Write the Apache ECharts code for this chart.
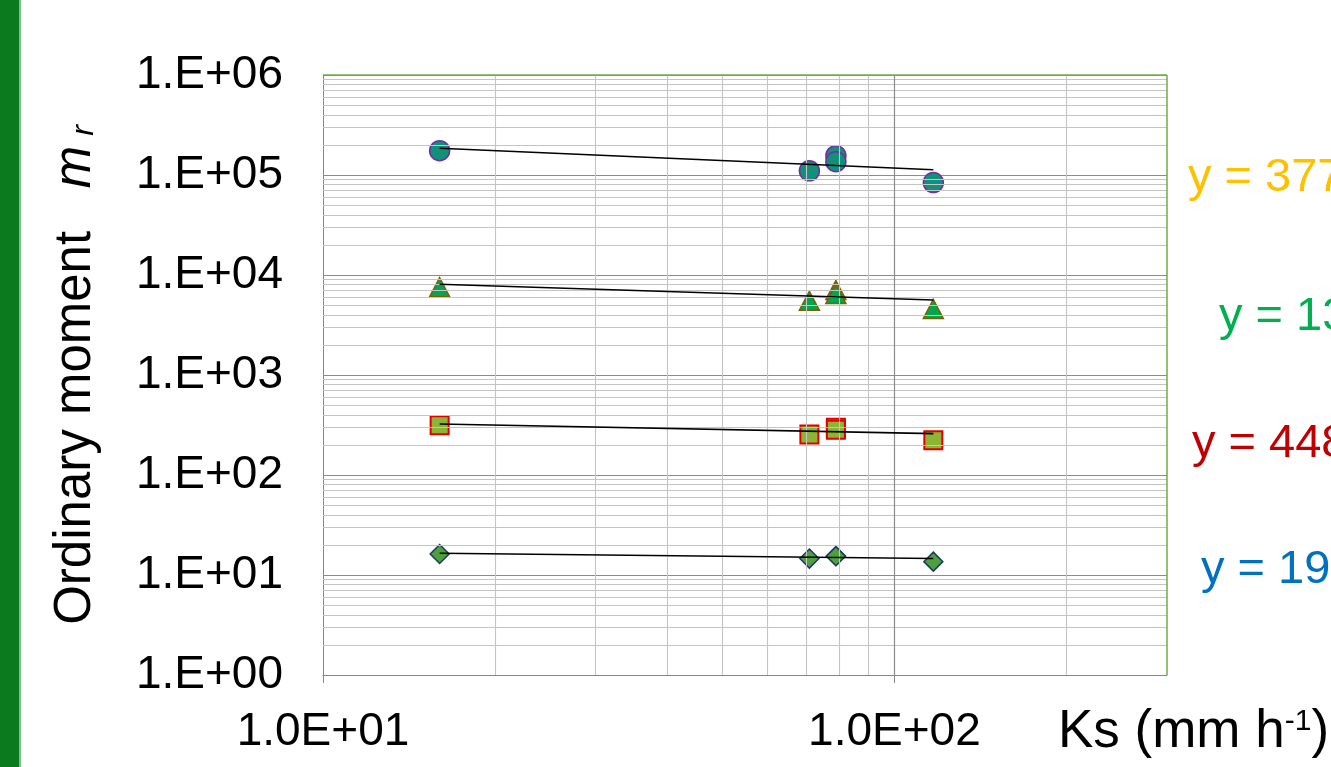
<!DOCTYPE html>
<html><head><meta charset="utf-8">
<script src="https://cdn.jsdelivr.net/npm/echarts@6/dist/echarts.min.js"></script>
<style>html,body{margin:0;padding:0;background:#fff}#c{width:1331px;height:767px}</style>
</head><body><div id="c"></div>
<script>
// Saturated hydraulic conductivity Ks (mm h-1)
const ks = [16, 71, 79, 79, 117];
// Ordinary moments
const momentCircle   = [175000, 110000, 156000, 136000, 84000];
const momentTriangle = [7550, 5520, 7080, 6460, 4570];
const momentSquare   = [315, 254, 297, 284, 222];
const momentDiamond  = [16.2, 14.6, 15.5, 15.4, 13.6];
// Power trend lines, end points
const trendKs       = [16, 117];
const trendCircle   = [185000, 113000];
const trendTriangle = [8070, 5620];
const trendSquare   = [324, 259];
const trendDiamond  = [16.5, 14.6];
// Equation labels (cut by the picture edge)
const equations = ['y = 377', 'y = 13', 'y = 448', 'y = 19'];
const equationColors = ['#FFC000', '#00B050', '#C00000', '#0070C0'];
// axis range and tick values
const xMin = 10, xMax = 300, yMin = 1, yMax = 1e6;
const xTicks = [10, 100];

const FONT = '"Liberation Sans", Arial, sans-serif';
const pts = (xs, ys) => xs.map((x, i) => [x, ys[i]]);

// minor gridline positions (2..9 of each decade)
const minorY = [];
for (let e = 0; e < 6; e++) for (let m = 2; m <= 9; m++) minorY.push(m * Math.pow(10, e));
const minorX = [];
for (let e = 1; e < 3; e++) for (let m = 2; m <= 9; m++) { const v = m * Math.pow(10, e); if (v < xMax) minorX.push(v); }

const gridLines = [];
minorY.forEach(v => gridLines.push({ yAxis: v, lineStyle: { color: '#C4C4C4', width: 1.1, type: 'solid' } }));
minorX.forEach(v => gridLines.push({ xAxis: v, lineStyle: { color: '#C4C4C4', width: 1.1, type: 'solid' } }));
gridLines.push({ xAxis: 100, lineStyle: { color: '#8C8C8C', width: 1.2, type: 'solid' } });
gridLines.push({ yAxis: yMax, lineStyle: { color: '#70AD47', width: 1.5, type: 'solid' } });
gridLines.push({ xAxis: xMax, lineStyle: { color: '#70AD47', width: 1.5, type: 'solid' } });

const chart = echarts.init(document.getElementById('c'), null, { renderer: 'canvas' });
const scatterBase = { type: 'scatter', z: 3, animation: false };
const trendBase = { type: 'line', z: 5, symbol: 'none', animation: false, lineStyle: { color: '#000', width: 1.6 } };

chart.setOption({
  backgroundColor: '#fff',
  textStyle: { fontFamily: FONT },
  grid: { left: 323, right: 164, top: 75, bottom: 92, containLabel: false },
  xAxis: {
    type: 'log', logBase: 10, min: xMin, max: xMax,
    axisLine: { show: true, lineStyle: { color: '#868686', width: 1 } },
    axisTick: { show: true, length: 8, customValues: xTicks, lineStyle: { color: '#868686' } },
    splitLine: { show: false },
    axisLabel: {
      fontSize: 46, color: '#000', fontFamily: FONT, margin: 34, customValues: xTicks,
      formatter: v => '1.0E+' + String(Math.round(Math.log10(v))).padStart(2, '0')
    }
  },
  yAxis: {
    type: 'log', logBase: 10, min: yMin, max: yMax,
    axisLine: { show: true, lineStyle: { color: '#868686', width: 1 } },
    axisTick: { show: false },
    splitLine: { show: true, lineStyle: { color: '#8C8C8C', width: 1.2 } },
    axisLabel: {
      fontSize: 46, color: '#000', fontFamily: FONT, margin: 40,
      formatter: v => '1.E+' + String(Math.round(Math.log10(v))).padStart(2, '0')
    },
    name: 'Ordinary moment   {m|m}{r|r}',
    nameLocation: 'middle', nameGap: 222,
    nameTextStyle: {
      fontSize: 51, color: '#000', fontFamily: FONT,
      rich: {
        m: { fontSize: 51, fontStyle: 'italic', fontFamily: FONT, color: '#000' },
        r: { fontSize: 32, fontStyle: 'italic', fontFamily: FONT, color: '#000', padding: [18, 0, 0, 10] }
      }
    }
  },
  series: [
    { type: 'line', data: [], z: 2, silent: true, animation: false,
      markLine: { silent: true, symbol: 'none', animation: false, label: { show: false },
        lineStyle: { type: 'solid' }, data: gridLines } },
    Object.assign({}, scatterBase, { name: 'circle', data: pts(ks, momentCircle), symbol: 'circle', symbolSize: 20,
      itemStyle: { color: '#11907A', borderColor: '#7030A0', borderWidth: 1.5, opacity: 1 } }),
    Object.assign({}, scatterBase, { name: 'triangle', data: pts(ks, momentTriangle), symbol: 'triangle', symbolSize: [20, 19],
      itemStyle: { color: '#00A650', borderColor: '#7F6000', borderWidth: 1.5, opacity: 1 } }),
    Object.assign({}, scatterBase, { name: 'square', data: pts(ks, momentSquare), symbol: 'rect', symbolSize: 18,
      itemStyle: { color: '#8DB535', borderColor: '#E00000', borderWidth: 2, opacity: 1 } }),
    Object.assign({}, scatterBase, { name: 'diamond', data: pts(ks, momentDiamond), symbol: 'diamond', symbolSize: [19, 19],
      itemStyle: { color: '#4E9F3D', borderColor: '#1F3A60', borderWidth: 1.5, opacity: 1 } }),
    Object.assign({}, trendBase, { data: pts(trendKs, trendCircle) }),
    Object.assign({}, trendBase, { data: pts(trendKs, trendTriangle) }),
    Object.assign({}, trendBase, { data: pts(trendKs, trendSquare) }),
    Object.assign({}, trendBase, { data: pts(trendKs, trendDiamond) })
  ],
  graphic: [
    { type: 'rect', left: 0, top: 0, shape: { width: 19, height: 767 }, style: { fill: '#0B7A1E' }, silent: true },
    { type: 'rect', left: 19, top: 0, shape: { width: 2, height: 767 }, style: { fill: '#7DBF86' }, silent: true },
    { type: 'text', left: 1058, top: 706, style: {
        text: 'Ks (mm h{s|-1})', fill: '#000', font: '53px ' + FONT,
        rich: { s: { fontSize: 30, fontFamily: FONT, fill: '#000', padding: [0, 0, 22, 0] } } } },
    { type: 'text', left: 1188, top: 155, style: { text: equations[0], fill: equationColors[0], font: '47px ' + FONT } },
    { type: 'text', left: 1219, top: 294, style: { text: equations[1], fill: equationColors[1], font: '47px ' + FONT } },
    { type: 'text', left: 1192, top: 421, style: { text: equations[2], fill: equationColors[2], font: '47px ' + FONT } },
    { type: 'text', left: 1201, top: 547, style: { text: equations[3], fill: equationColors[3], font: '47px ' + FONT } }
  ]
});
</script>
</body></html>
